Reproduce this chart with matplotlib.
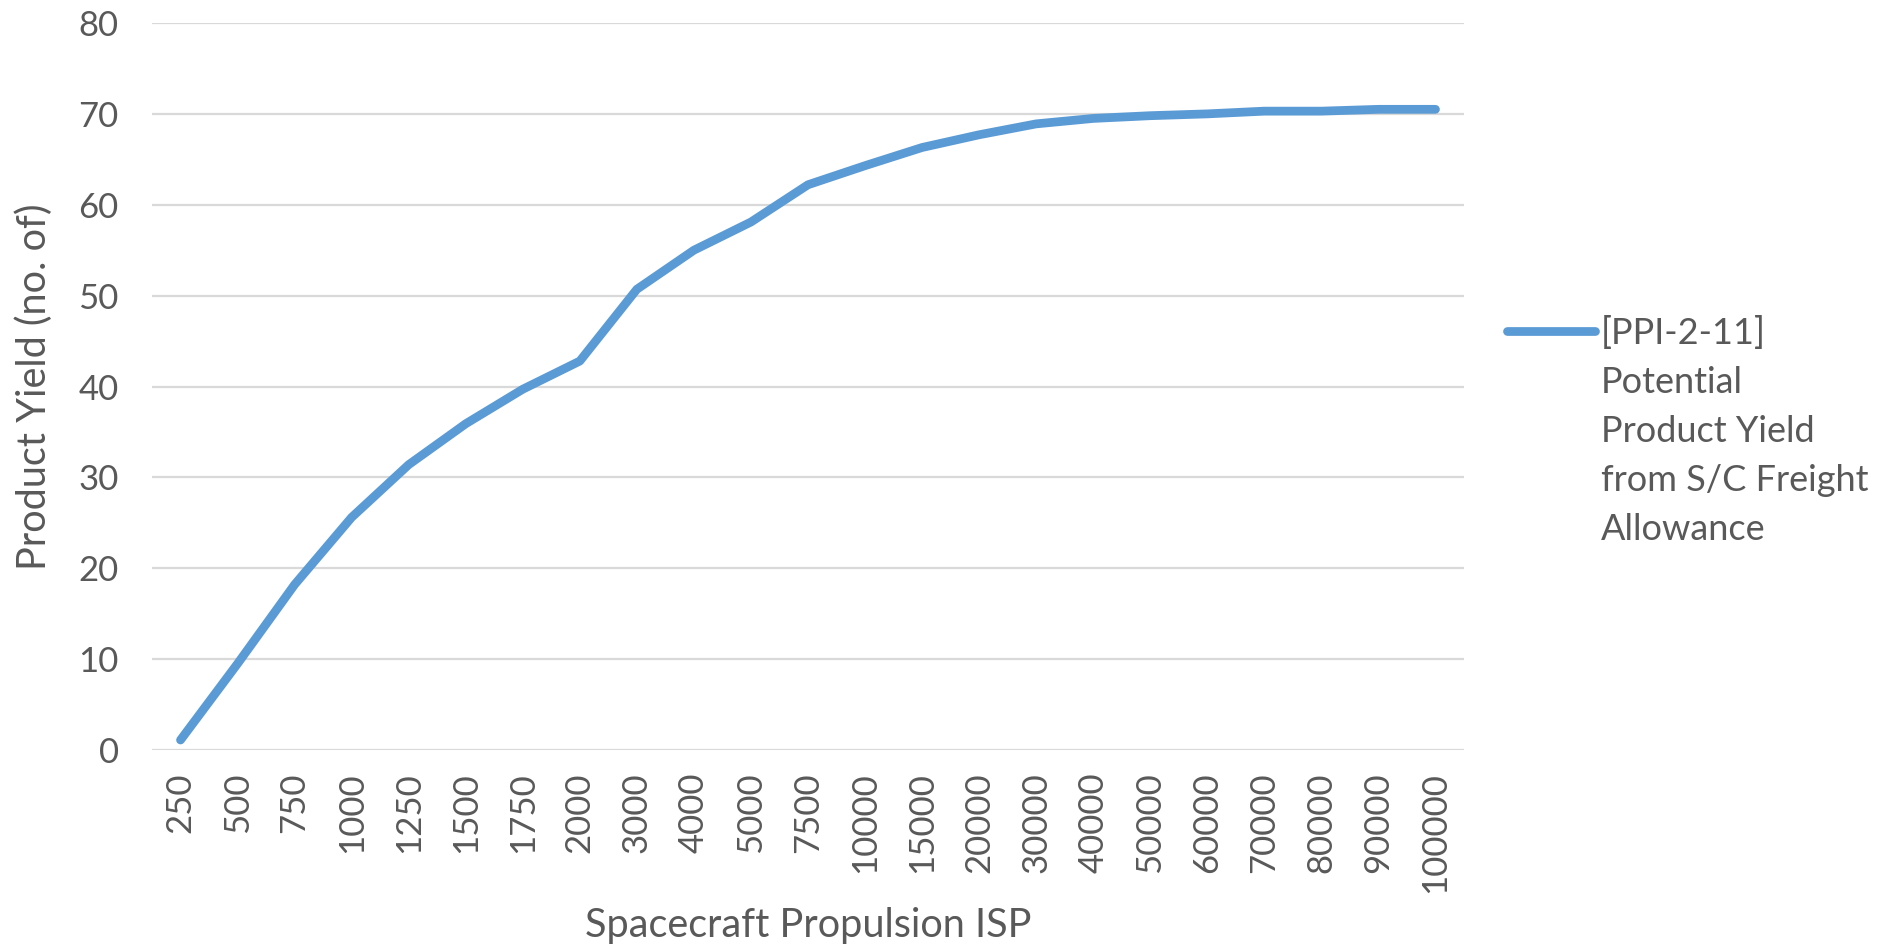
import matplotlib
matplotlib.use("Agg")
import matplotlib.pyplot as plt
import numpy as np

# ---- data ----
categories = ["250", "500", "750", "1000", "1250", "1500", "1750", "2000", "3000",
              "4000", "5000", "7500", "10000", "15000", "20000", "30000", "40000",
              "50000", "60000", "70000", "80000", "90000", "100000"]
yield_values = [1.1, 9.5, 18.2, 25.6, 31.4, 35.9, 39.7, 42.8, 50.7, 55.0, 58.1, 62.2,
                64.3, 66.3, 67.7, 68.9, 69.5, 69.8, 70.0, 70.3, 70.3, 70.5, 70.5]
y_ticks = [0, 10, 20, 30, 40, 50, 60, 70, 80]
series_label_lines = ["[PPI-2-11]", "Potential", "Product Yield", "from S/C Freight", "Allowance"]
x_label = "Spacecraft Propulsion ISP"
y_label = "Product Yield (no. of)"

plt.rcParams['font.family'] = ['Lato', 'DejaVu Sans']
GRAY = '#595959'
BLUE = '#5B9BD5'

W, H = 1883, 951
fig = plt.figure(figsize=(W / 100, H / 100), dpi=100)
L, R, T, B = 152, 1464, 23, 750
ax = fig.add_axes([L / W, 1 - B / H, (R - L) / W, (B - T) / H])

x = np.arange(len(categories))
line, = ax.plot(x, yield_values, color=BLUE, lw=6.3, solid_capstyle='round',
                solid_joinstyle='round', zorder=3)

ax.set_xlim(-0.5, len(categories) - 0.5)
ax.set_ylim(0, 80)
ax.set_yticks(y_ticks)
ax.set_xticks(x)
ax.set_xticklabels(categories, rotation=90)
ax.grid(axis='y', color='#D9D9D9', lw=1.6)
ax.set_axisbelow(True)
for s in ax.spines.values():
    s.set_visible(False)
ax.tick_params(axis='both', length=0, labelcolor=GRAY, labelsize=25)
ax.tick_params(axis='y', pad=24)
ax.tick_params(axis='x', pad=16)

ax.set_xlabel(x_label, fontsize=28.5, color=GRAY)
ax.xaxis.set_label_coords(0.5, (B - 925) / (B - T))
ax.xaxis.label.set_va('center')
ax.set_ylabel(y_label, fontsize=28.5, color=GRAY)
ax.yaxis.set_label_coords((34 - L) / (R - L), (B - 387) / (B - T))
ax.yaxis.label.set_va('center')

# legend
fs_leg = 26
leg = fig.legend([line], [series_label_lines[0]], loc='center left',
                 bbox_to_anchor=(1507 / W, 1 - 333 / H), frameon=False,
                 fontsize=fs_leg, handlelength=2.45, handletextpad=0.15,
                 borderpad=0, borderaxespad=0, labelcolor=GRAY)
leg.get_lines()[0].set_solid_capstyle('round')
fig.canvas.draw()
ext = leg.get_texts()[0].get_window_extent()
x0 = ext.x0 / W
for k, txt in enumerate(series_label_lines[1:], start=1):
    fig.text(x0, 1 - (333 + k * 49.2) / H, txt, fontsize=fs_leg, color=GRAY,
             va='center', ha='left')

fig.savefig("out.png", dpi=100)
